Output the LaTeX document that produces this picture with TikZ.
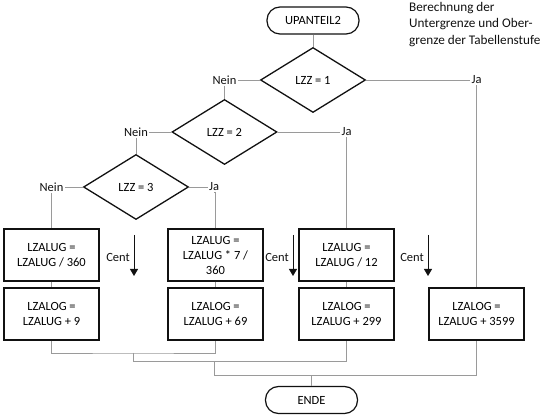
\documentclass[tikz,border=0pt]{standalone}
\usepackage{fontspec}
\setmainfont{Carlito}
\usetikzlibrary{positioning,arrows.meta,shapes.geometric}
\definecolor{flow-line}{HTML}{9A9A9A}
\definecolor{flow-primary}{HTML}{111111}
\begin{document}
\begin{tikzpicture}[
  x=1pt, y=-1pt,
  font=\fontsize{12.5}{15}\selectfont,
  every node/.style={align=center},
  term/.style={rectangle, draw=flow-primary, line width=1.2pt, rounded corners=13pt, minimum width=92pt, minimum height=27pt, inner sep=2pt},
  decision/.style={diamond, draw=flow-primary, line width=1.3pt, minimum width=105pt, minimum height=65pt, inner sep=0pt},
  proc/.style={rectangle, draw=flow-primary, line width=1.3pt, minimum width=95pt, minimum height=52pt, inner sep=2pt},
  lbl/.style={inner sep=1pt, text=flow-primary},
  conn/.style={line width=0.8pt, flow-line},
  cent/.style={-{Triangle[length=7pt,width=8pt]}, line width=0.9pt, flow-primary}
]
  \useasboundingbox (0,0) rectangle (550,419);

  \node[term] (start) at (313,20.5) {UPANTEIL2};
  \node[lbl, anchor=north west, align=left, font=\fontsize{13.2}{16.5}\selectfont] (note) at (408,1)
    {Berechnung der\\Untergrenze und Ober-\\grenze der Tabellenstufe};

  \node[decision] (d1) at (313,80) {LZZ = 1};
  \node[decision] (d2) at (224.5,132) {LZZ = 2};
  \node[decision] (d3) at (136,187) {LZZ = 3};

  \node[lbl] (nein1) at (224.5,80) {Nein};
  \node[lbl] (ja1) at (476.5,80) {Ja};
  \node[lbl] (nein2) at (136,132) {Nein};
  \node[lbl] (ja2) at (346.5,132) {Ja};
  \node[lbl] (nein3) at (51.5,187) {Nein};
  \node[lbl] (ja3) at (214,187) {Ja};

  % Untergrenze
  \node[proc] (ug1) at (51.5,255) {LZALUG =\\LZALUG / 360};
  \node[proc] (ug2) at (215.5,255) {LZALUG =\\LZALUG * 7 /\\360};
  \node[proc] (ug3) at (346.5,255) {LZALUG =\\LZALUG / 12};

  % Obergrenze
  \node[proc] (og1) at (51.5,314) {LZALOG =\\LZALUG + 9};
  \node[proc] (og2) at (215.5,314) {LZALOG =\\LZALUG + 69};
  \node[proc] (og3) at (346.5,314) {LZALOG =\\LZALUG + 299};
  \node[proc] (og4) at (476.5,314) {LZALOG =\\LZALUG + 3599};

  \node[term] (ende) at (311.5,400) {ENDE};

  \draw[conn] (start.south) -- (d1.north);
  \draw[conn] (d1.west) -- (nein1.east);
  \draw[conn] (nein1.south) -- (d2.north);
  \draw[conn] (d1.east) -- (ja1.west);
  \draw[conn] (ja1.south) -- (og4.north);
  \draw[conn] (d2.west) -- (nein2.east);
  \draw[conn] (nein2.south) -- (d3.north);
  \draw[conn] (d2.east) -- (ja2.west);
  \draw[conn] (ja2.south) -- (ug3.north);
  \draw[conn] (d3.west) -- (nein3.east);
  \draw[conn] (nein3.south) -- (ug1.north);
  \draw[conn] (d3.east) -- (ja3.west);
  \draw[conn] (ja3.south) -- (ja3.south -| ug2.north) -- (ug2.north);

  \draw[conn] (ug1.south) -- (og1.north);
  \draw[conn] (ug2.south) -- (og2.north);
  \draw[conn] (ug3.south) -- (og3.north);

  % Cent markers
  \coordinate (cent1-top) at (134,235);
  \coordinate (cent1-end) at (134,276);
  \coordinate (cent2-top) at (293,235);
  \coordinate (cent2-end) at (293,276);
  \coordinate (cent3-top) at (428,235);
  \coordinate (cent3-end) at (428,276);
  \draw[cent] (cent1-top) -- (cent1-end);
  \draw[cent] (cent2-top) -- (cent2-end);
  \draw[cent] (cent3-top) -- (cent3-end);
  \node[lbl, anchor=east] (cent1) at ([xshift=-3pt,yshift=-2pt]cent1-top |- ug1.center) {Cent};
  \node[lbl, anchor=east] (cent2) at ([xshift=-3pt,yshift=-2pt]cent2-top |- ug2.center) {Cent};
  \node[lbl, anchor=east] (cent3) at ([xshift=-3pt,yshift=-2pt]cent3-top |- ug3.center) {Cent};

  % Zusammenfuehrung
  \coordinate (m1) at (133,353);
  \coordinate (m2) at (214,361.5);
  \coordinate (m3) at (311.5,375.5);
  \draw[conn] (og1.south) |- (m1) -| (og2.south);
  \draw[conn] (m1) |- (m2) -| (og3.south);
  \draw[conn] (m2) |- (m3) -| (og4.south);
  \draw[conn] (m3) -- (ende.north);
\end{tikzpicture}
\end{document}
